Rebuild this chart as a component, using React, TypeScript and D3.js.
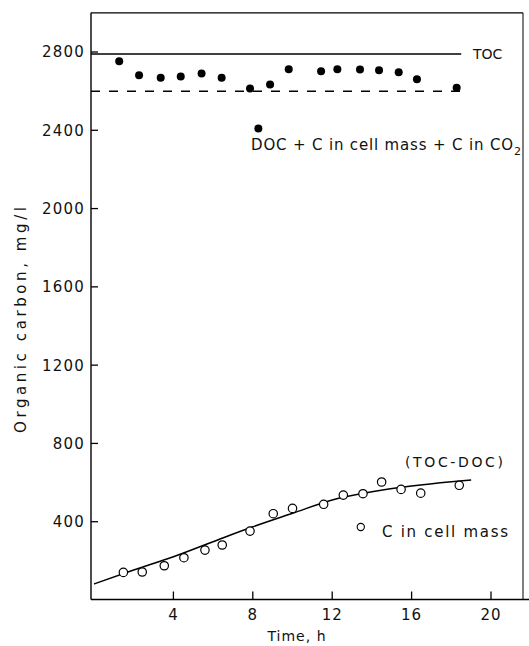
import React from "react";
import * as d3 from "d3";

// Filled circles: DOC + C in cell mass + C in CO2
const docTime = [1.27, 2.27, 3.36, 4.37, 5.42, 6.43, 7.86, 8.87, 9.81, 11.44, 12.26, 13.4, 14.36, 15.35, 16.27, 18.27];
const docValue = [2753, 2681, 2668, 2675, 2690, 2669, 2613, 2634, 2712, 2702, 2712, 2710, 2707, 2697, 2661, 2617];

// Open circles: C in cell mass
const cellTime = [1.48, 2.43, 3.54, 4.53, 5.59, 6.46, 7.86, 9.03, 10.0, 11.57, 12.56, 13.55, 14.49, 15.47, 16.46, 18.4];
const cellValue = [141, 143, 175, 216, 255, 281, 352, 441, 468, 489, 536, 543, 603, 565, 546, 586];

// Fitted curve (TOC - DOC)
const fitTime = [0, 2, 4, 6, 8, 10, 12, 14, 16, 18, 19];
const fitValue = [82, 153, 221, 298, 374, 443, 511, 553, 582, 604, 613];

const tocValue = 2790;
const meanValue = 2600;
const refLineEnd = 18.5;

const xTicks = [4, 8, 12, 16, 20];
const yTicks = [400, 800, 1200, 1600, 2000, 2400, 2800];

const W = 529;
const H = 646;
const FONT = "'DejaVu Sans', sans-serif";

export default function App() {
  const x = d3.scaleLinear().domain([0, 20]).range([94, 491]);
  const y = d3.scaleLinear().domain([0, 2800]).range([600, 52]);

  const left = 91;
  const top = y(3000);
  const right = 523;
  const bottom = 599.5;

  const line = d3
    .line<number>()
    .x((_, i) => x(fitTime[i]))
    .y((d) => y(d))
    .curve(d3.curveMonotoneX);

  return (
    <svg
      width={W}
      height={H}
      style={{ position: "absolute", left: 0, top: 0, background: "#fff" }}
      fontFamily={FONT}
    >
      <rect x={0} y={0} width={W} height={H} fill="#fff" />
      {/* frame */}
      <line x1={left} y1={top} x2={right} y2={top} stroke="#000" strokeWidth={1.4} />
      <line x1={right} y1={top} x2={right} y2={bottom} stroke="#000" strokeWidth={1} />
      <line x1={left} y1={top} x2={left} y2={bottom} stroke="#000" strokeWidth={1.4} />
      <line x1={left} y1={bottom} x2={W} y2={bottom} stroke="#000" strokeWidth={1.4} />

      {/* y ticks */}
      {yTicks.map((t) => (
        <g key={"y" + t}>
          <line x1={left} x2={left + 7} y1={y(t)} y2={y(t)} stroke="#000" strokeWidth={1.3} />
          <text
            x={left - 6}
            y={y(t)}
            dy="0.36em"
            textAnchor="end"
            fontSize={15}
            letterSpacing={1.2}
            fill="#111"
          >
            {t}
          </text>
        </g>
      ))}

      {/* x ticks */}
      {xTicks.map((t) => (
        <g key={"x" + t}>
          <line x1={x(t)} x2={x(t)} y1={bottom} y2={bottom - 8} stroke="#000" strokeWidth={1.3} />
          <text x={x(t)} y={615} dy="0.36em" textAnchor="middle" fontSize={15} letterSpacing={1} fill="#111">
            {t}
          </text>
        </g>
      ))}

      {/* axis titles */}
      <text x={297} y={636} dy="0.36em" textAnchor="middle" fontSize={14} letterSpacing={1} fill="#111">
        Time, h
      </text>
      <text
        transform={`translate(21,320) rotate(-90)`}
        textAnchor="middle"
        dy="0.36em"
        fontSize={15}
        textLength={226}
        lengthAdjust="spacing"
        fill="#111"
      >
        Organic carbon, mg/l
      </text>

      {/* reference lines */}
      <line x1={left} x2={x(refLineEnd)} y1={y(tocValue)} y2={y(tocValue)} stroke="#000" strokeWidth={1.5} />
      <line
        x1={left}
        x2={x(refLineEnd)}
        y1={y(meanValue)}
        y2={y(meanValue)}
        stroke="#000"
        strokeWidth={1.5}
        strokeDasharray="9 9"
      />
      <text x={473} y={y(tocValue)} dy="0.36em" fontSize={14} fill="#111">
        TOC
      </text>

      {/* filled circles */}
      {docValue.map((v, i) => (
        <circle key={"d" + i} cx={x(docTime[i])} cy={y(v)} r={4} fill="#000" />
      ))}
      <circle cx={x(8.28)} cy={y(2409)} r={4} fill="#000" />
      <text x={251} y={150} fontSize={15} textLength={262} lengthAdjust="spacing" fill="#111">
        DOC + C in cell mass + C in CO
      </text>
      <text x={514} y={155} fontSize={11} fill="#111">
        2
      </text>

      {/* fitted curve */}
      <path d={line(fitValue) || ""} fill="none" stroke="#000" strokeWidth={1.5} />

      {/* open circles */}
      {cellValue.map((v, i) => (
        <circle
          key={"c" + i}
          cx={x(cellTime[i])}
          cy={y(v)}
          r={4.2}
          fill="#fff"
          stroke="#000"
          strokeWidth={1.2}
        />
      ))}
      <circle cx={x(13.44)} cy={y(373)} r={3.6} fill="#fff" stroke="#000" strokeWidth={1.1} />
      <text x={405} y={462} dy="0.36em" fontSize={14} textLength={98} lengthAdjust="spacing" fill="#111">
        (TOC-DOC)
      </text>
      <text x={382} y={532} dy="0.36em" fontSize={15} textLength={126} lengthAdjust="spacing" fill="#111">
        C in cell mass
      </text>
    </svg>
  );
}
